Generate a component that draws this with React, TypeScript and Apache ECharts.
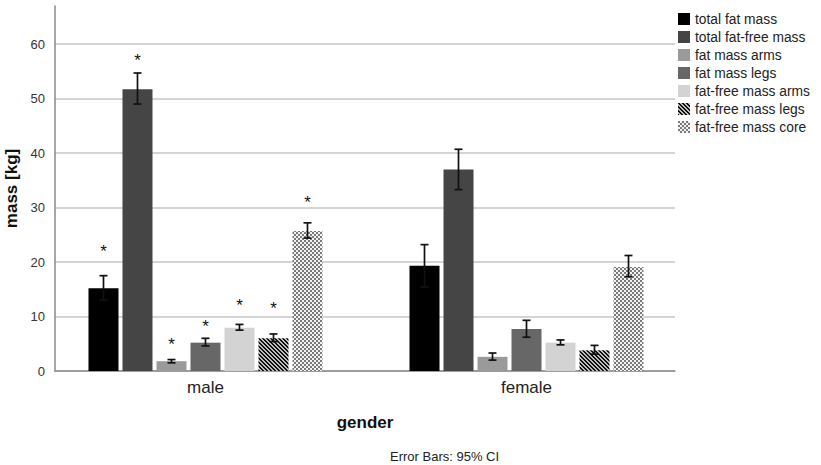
import React, { useEffect, useRef } from 'react';
import * as echarts from 'echarts';

const categories = ['male', 'female'];
const seriesNames = [
  'total fat mass',
  'total fat-free mass',
  'fat mass arms',
  'fat mass legs',
  'fat-free mass arms',
  'fat-free mass legs',
  'fat-free mass core',
];
const totalFatMass = [15.2, 19.3];
const totalFatFreeMass = [51.7, 37.0];
const fatMassArms = [1.8, 2.6];
const fatMassLegs = [5.2, 7.7];
const fatFreeMassArms = [7.95, 5.2];
const fatFreeMassLegs = [6.0, 3.8];
const fatFreeMassCore = [25.7, 19.1];

// 95% CI [lower, upper] per gender (male, female)
const totalFatMassCI = [[13.0, 17.5], [15.4, 23.2]];
const totalFatFreeMassCI = [[49.0, 54.7], [33.3, 40.7]];
const fatMassArmsCI = [[1.5, 2.1], [2.0, 3.3]];
const fatMassLegsCI = [[4.6, 6.0], [6.2, 9.3]];
const fatFreeMassArmsCI = [[7.5, 8.55], [4.8, 5.7]];
const fatFreeMassLegsCI = [[5.4, 6.8], [3.1, 4.7]];
const fatFreeMassCoreCI = [[24.4, 27.2], [17.3, 21.2]];

// significance asterisks (male group only)
const maleAsteriskY = [22.7, 57.7, 5.6, 8.9, 12.8, 12.2, 31.6];

const yMin = 0;
const yMax = 67;
const yInterval = 10;

const FONT = 'Liberation Sans, Arial, sans-serif';

function makeStripe() {
  const n = 4;
  const c = document.createElement('canvas');
  c.width = n;
  c.height = n;
  const ctx = c.getContext('2d')!;
  for (let x = 0; x < n; x++) {
    for (let y = 0; y < n; y++) {
      const k = (((x - y) % n) + n) % n;
      ctx.fillStyle = k < 2 ? '#111111' : '#bdbdbd';
      ctx.fillRect(x, y, 1, 1);
    }
  }
  return { image: c, repeat: 'repeat', imageWidth: n, imageHeight: n };
}

function makeChecker() {
  const n = 4;
  const c = document.createElement('canvas');
  c.width = n;
  c.height = n;
  const ctx = c.getContext('2d')!;
  for (let x = 0; x < n; x++) {
    for (let y = 0; y < n; y++) {
      const k = (Math.floor(x / 2) + Math.floor(y / 2)) % 2;
      ctx.fillStyle = k === 0 ? '#7a7a7a' : '#f2f2f2';
      ctx.fillRect(x, y, 1, 1);
    }
  }
  return { image: c, repeat: 'repeat', imageWidth: n, imageHeight: n };
}

export default function App() {
  const ref = useRef<HTMLDivElement>(null);

  useEffect(() => {
    if (!ref.current) return;
    const chart = echarts.init(ref.current, undefined, { renderer: 'svg' });

    const values = [
      totalFatMass,
      totalFatFreeMass,
      fatMassArms,
      fatMassLegs,
      fatFreeMassArms,
      fatFreeMassLegs,
      fatFreeMassCore,
    ];
    const cis = [
      totalFatMassCI,
      totalFatFreeMassCI,
      fatMassArmsCI,
      fatMassLegsCI,
      fatFreeMassArmsCI,
      fatFreeMassLegsCI,
      fatFreeMassCoreCI,
    ];
    const colors: any[] = [
      '#000000',
      '#454545',
      '#9a9a9a',
      '#676767',
      '#d3d3d3',
      makeStripe(),
      makeChecker(),
    ];

    const barWidth = 30;
    const gap = 4;
    const pitch = barWidth + gap;
    const nSeries = seriesNames.length;

    const barSeries = seriesNames.map((name, i) => ({
      name,
      type: 'bar',
      barWidth,
      barGap: `${(gap / barWidth) * 100}%`,
      itemStyle: { color: colors[i] },
      data: values[i].map((v, c) => [c, v]),
    }));

    const errData: any[] = [];
    seriesNames.forEach((_, i) => {
      categories.forEach((_, c) => {
        errData.push([c, i, cis[i][c][0], cis[i][c][1], c === 0 ? maleAsteriskY[i] : '-']);
      });
    });

    const errSeries = {
      name: 'ci',
      type: 'custom',
      data: errData,
      encode: { x: 0, y: [2, 3] },
      z: 5,
      renderItem: (params: any, api: any) => {
        const cat = api.value(0);
        const si = api.value(1);
        const lo = api.value(2);
        const hi = api.value(3);
        const ast = api.value(4);
        const offset = (si - (nSeries - 1) / 2) * pitch;
        const pLo = api.coord([cat, lo]);
        const pHi = api.coord([cat, hi]);
        const x = pLo[0] + offset;
        const capW = 4;
        const st = { stroke: '#111111', lineWidth: 1.7 };
        const children: any[] = [
          { type: 'line', shape: { x1: x, y1: pLo[1], x2: x, y2: pHi[1] }, style: st },
          { type: 'line', shape: { x1: x - capW, y1: pLo[1], x2: x + capW, y2: pLo[1] }, style: st },
          { type: 'line', shape: { x1: x - capW, y1: pHi[1], x2: x + capW, y2: pHi[1] }, style: st },
        ];
        if (ast > 0) {
          const pa = api.coord([cat, ast]);
          children.push({
            type: 'text',
            x,
            y: pa[1] + 4,
            style: {
              text: '*',
              fill: '#111111',
              font: `17px ${FONT}`,
              align: 'center',
              verticalAlign: 'middle',
            },
          });
        }
        return { type: 'group', children };
      },
    };

    const option: any = {
      animation: false,
      backgroundColor: '#ffffff',
      textStyle: { fontFamily: FONT },
      grid: { left: 55, right: 146, top: 6, bottom: 94, containLabel: false, outerBoundsMode: 'none' },
      legend: {
        show: true,
        data: seriesNames,
        orient: 'vertical',
        left: 673,
        top: 7,
        icon: 'rect',
        itemWidth: 12,
        itemHeight: 12,
        itemGap: 4,
        selectedMode: false,
        textStyle: { fontFamily: FONT, fontSize: 13.8, color: '#222222', lineHeight: 13 },
      },
      xAxis: {
        type: 'value',
        min: -0.4688,
        max: 1.4626,
        name: 'gender',
        nameLocation: 'middle',
        nameGap: 43,
        nameTextStyle: { fontFamily: FONT, fontSize: 17, fontWeight: 'bold', color: '#111111' },
        splitLine: { show: false },
        axisTick: { show: false },
        axisLine: { show: true, onZero: false, lineStyle: { color: '#8a8a8a', width: 1.5 } },
        axisLabel: {
          customValues: categories.map((_, i) => i),
          formatter: (v: number) => categories[Math.round(v)] ?? '',
          fontFamily: FONT,
          fontSize: 17,
          color: '#222222',
          margin: 8,
        },
      },
      yAxis: {
        type: 'value',
        min: yMin,
        max: yMax,
        interval: yInterval,
        name: 'mass [kg]',
        nameLocation: 'middle',
        nameGap: 31,
        nameTextStyle: { fontFamily: FONT, fontSize: 17, fontWeight: 'bold', color: '#111111' },
        axisLine: { show: true, onZero: false, lineStyle: { color: '#8a8a8a', width: 1.5 } },
        axisTick: { show: false },
        axisLabel: {
          showMaxLabel: false,
          fontFamily: FONT,
          fontSize: 13,
          color: '#333333',
          margin: 10,
        },
        splitLine: { show: true, showMaxLine: false, lineStyle: { color: '#c6c6c6', width: 1.5 } },
      },
      graphic: [
        {
          type: 'text',
          left: 390,
          top: 450,
          style: { text: 'Error Bars: 95% CI', font: `13px ${FONT}`, fill: '#222222' },
        },
      ],
      series: [...barSeries, errSeries],
    };

    chart.setOption(option);
    return () => chart.dispose();
  }, []);

  return (
    <div
      ref={ref}
      style={{ position: 'fixed', left: 0, top: 0, width: 821, height: 465, background: '#fff' }}
    />
  );
}
